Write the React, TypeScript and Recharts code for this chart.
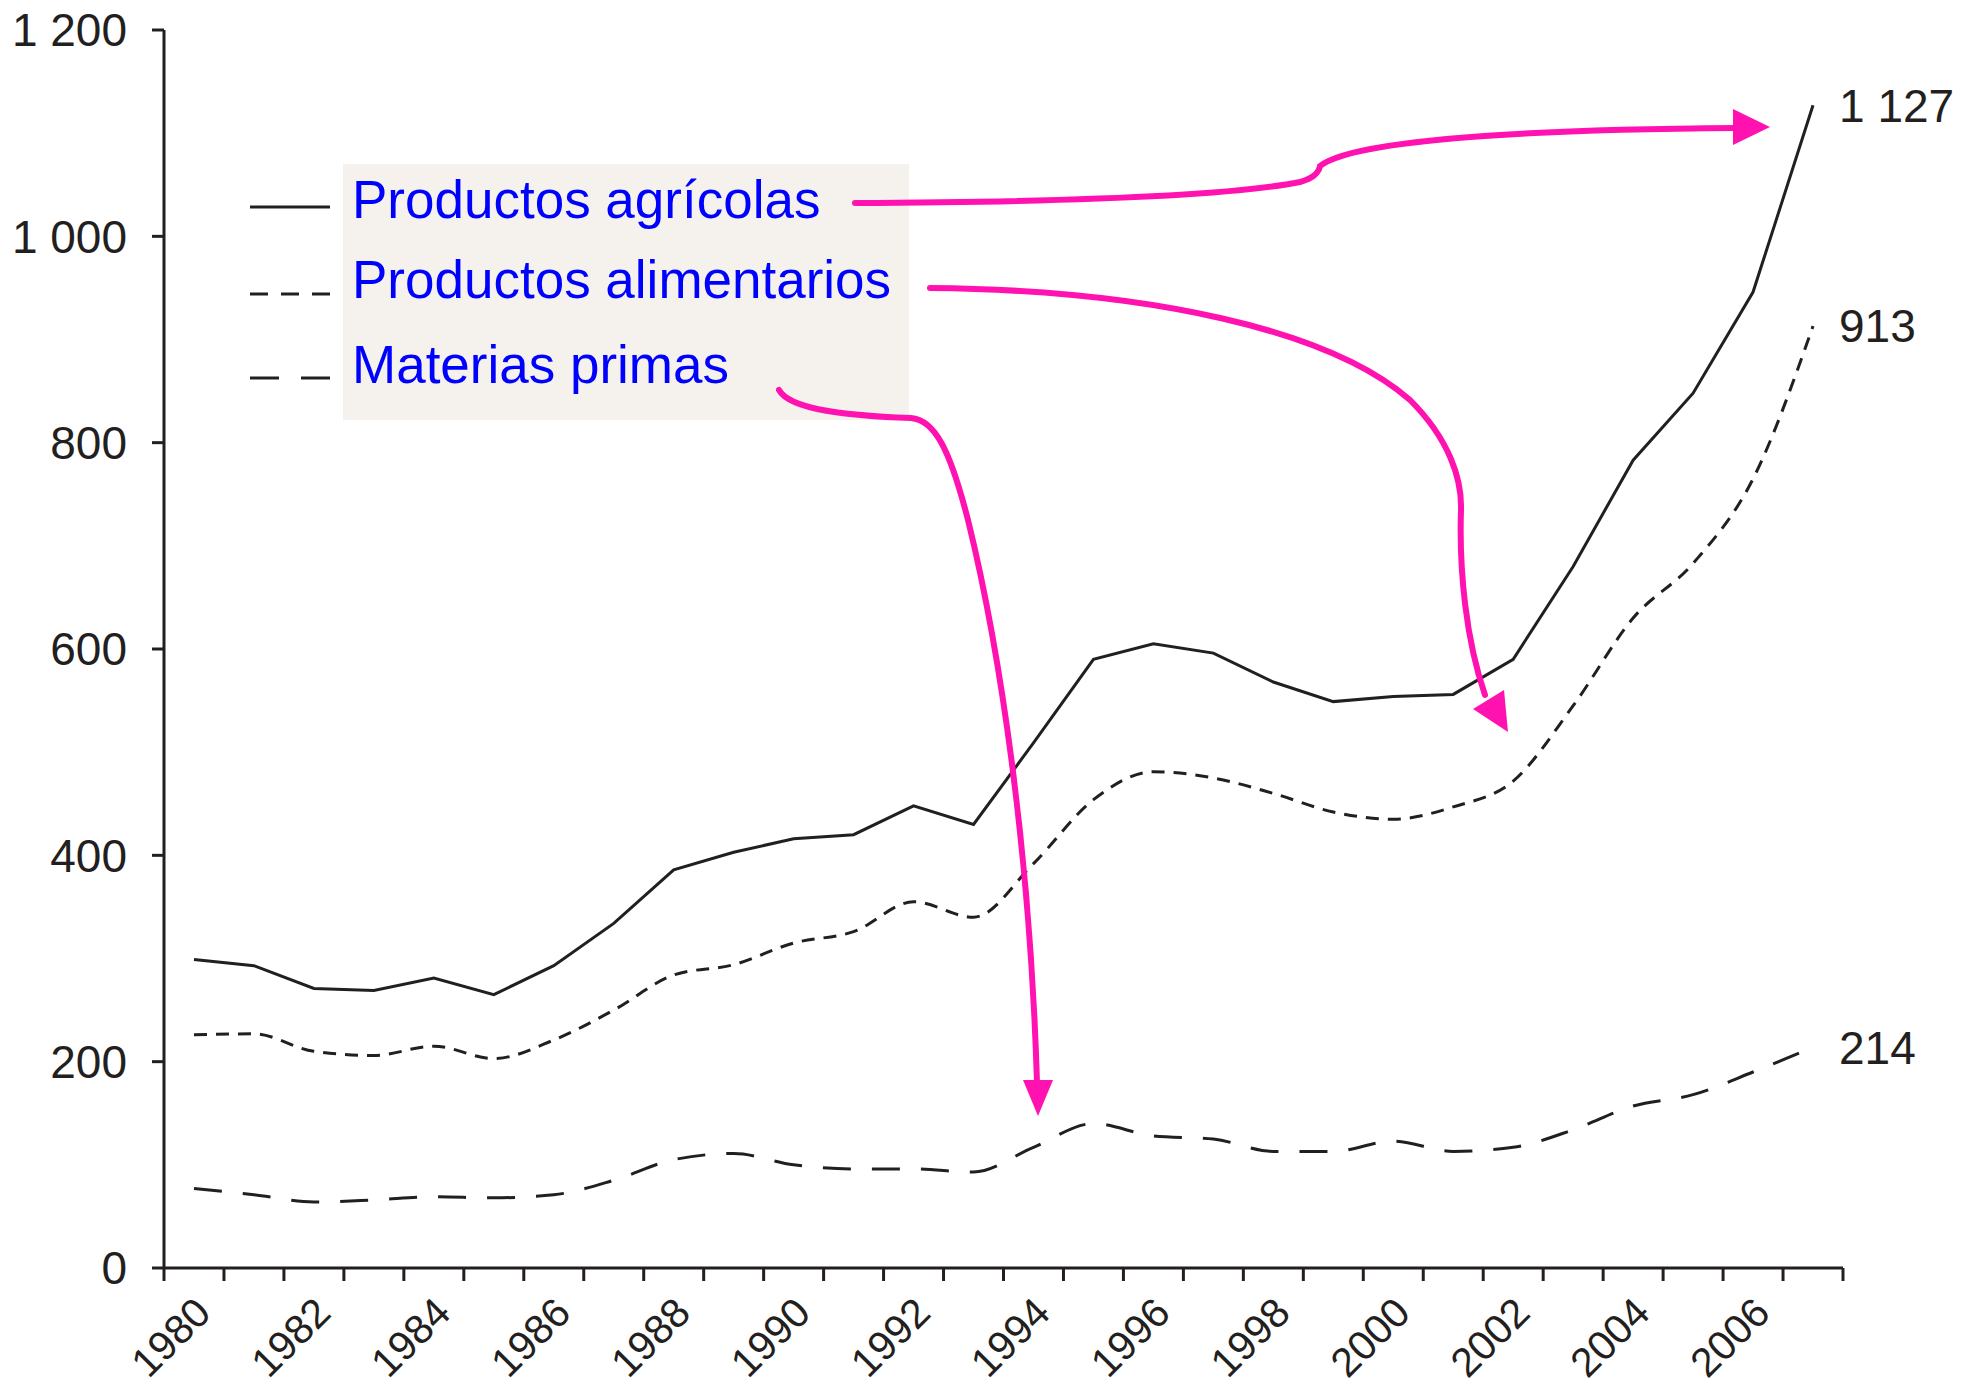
import React from 'react'
import { LineChart, Line, XAxis, YAxis, Legend, LabelList } from 'recharts'

const YEARS = [
  '1980', '1981', '1982', '1983', '1984', '1985', '1986', '1987', '1988', '1989',
  '1990', '1991', '1992', '1993', '1994', '1995', '1996', '1997', '1998', '1999',
  '2000', '2001', '2002', '2003', '2004', '2005', '2006', '2007',
]

const AGRICOLAS = [
  299, 293, 271, 269, 281, 265, 293, 334, 386, 403,
  416, 420, 448, 430, 509, 590, 605, 596, 568, 549,
  554, 556, 590, 680, 783, 848, 946, 1127,
]

const ALIMENTARIOS = [
  226, 227, 210, 206, 215, 203, 221, 250, 284, 294,
  315, 326, 355, 340, 392, 454, 481, 475, 460, 442,
  435, 447, 472, 545, 630, 683, 765, 913,
]

const MATERIAS = [
  77, 71, 64, 66, 69, 68, 71, 85, 105, 111,
  100, 96, 96, 93, 117, 140, 128, 125, 113, 113,
  123, 113, 117, 134, 157, 168, 190, 214,
]

const Y_TICKS = [0, 200, 400, 600, 800, 1000, 1200]

const SERIES_NAMES = ['Productos agrícolas', 'Productos alimentarios', 'Materias primas']

// chart geometry
const W = 1971
const H = 1388
const Y_AXIS_W = 164
const RIGHT = 128
const BAND = (W - Y_AXIS_W - RIGHT) / YEARS.length

const INK = '#231f20'
const PINK = '#ff12b0'
const FONT = '"Liberation Sans", Arial, Helvetica, sans-serif'

const data = YEARS.map((year, i) => ({
  year,
  agricolas: AGRICOLAS[i],
  alimentarios: ALIMENTARIOS[i],
  materias: MATERIAS[i],
}))

const series = [
  { key: 'agricolas', name: SERIES_NAMES[0], dash: undefined, legendDash: undefined, type: 'linear' },
  { key: 'alimentarios', name: SERIES_NAMES[1], dash: '13 9', legendDash: '18 13', type: 'monotone' },
  { key: 'materias', name: SERIES_NAMES[2], dash: '28 21', legendDash: '29 22', type: 'monotone' },
]

const fmt = (v: number) => String(v).replace(/\B(?=(\d{3})+(?!\d))/g, ' ')

const YearTick = (props: any) => {
  const { x, y, payload, index } = props
  const half = BAND / 2
  const year = Number(payload.value)
  const ax = x + 19
  const ay = y + 47
  return (
    <g>
      <line x1={x - half} y1={y} x2={x - half} y2={y + 13} stroke={INK} strokeWidth={3} />
      {index === YEARS.length - 1 && (
        <line x1={x + half} y1={y} x2={x + half} y2={y + 13} stroke={INK} strokeWidth={3} />
      )}
      {year % 2 === 0 && (
        <text
          x={ax}
          y={ay}
          textAnchor="end"
          transform={`rotate(-45 ${ax} ${ay})`}
          fontSize={41}
          fill={INK}
          fontFamily={FONT}
        >
          {payload.value}
        </text>
      )}
    </g>
  )
}

const EndLabel = (props: any) => {
  const { x, y, value, index } = props
  if (index !== YEARS.length - 1) return null
  return (
    <text x={x + 26} y={y} dy="0.355em" fontSize={46} fill={INK} fontFamily={FONT}>
      {fmt(value)}
    </text>
  )
}

// legend keeps the series order (not the alphabetical payload order)
const LegendBox = () => {
  const rows = [
    { line: 43, base: 54 },
    { line: 130, base: 134 },
    { line: 214, base: 219 },
  ]
  return (
    <svg width={660} height={260}>
      <rect x={93} y={0} width={566} height={256} fill="#f5f2ee" />
      {series.map((s, i) => {
        const r = rows[i]
        return (
          <g key={s.key}>
            <line x1={0} y1={r.line} x2={80} y2={r.line} stroke={INK} strokeWidth={3} strokeDasharray={s.legendDash} />
            <text x={102} y={r.base} fontSize={53} fill="#0000ff" fontFamily={FONT}>
              {s.name}
            </text>
          </g>
        )
      })}
    </svg>
  )
}

// hand-drawn pointer arrows from the legend to the lines
const Arrows = () => (
  <svg width={W} height={H} style={{ position: 'absolute', left: 0, top: 0, pointerEvents: 'none' }}>
    <g fill="none" stroke={PINK} strokeWidth={6} strokeLinecap="round">
      <path d="M855,203 C1050,202 1230,196 1300,182 Q1318,177 1320,166 C1345,146 1460,130 1737,128" />
      <path d="M930,288 C1150,290 1330,330 1410,400 C1450,440 1462,480 1461,510 C1459,570 1466,640 1485,695" />
      <path d="M779,390 C790,410 850,416 911,418 C935,420 950,450 968,520 C1000,650 1030,850 1037,1083" />
    </g>
    <g fill={PINK}>
      <polygon points="1770,127 1733,109 1733,145" />
      <polygon points="1508,732 1504,690 1473,709" />
      <polygon points="1038,1116 1023,1080 1053,1080" />
    </g>
  </svg>
)

export default function App() {
  return (
    <div style={{ position: 'absolute', left: 0, top: 0, width: W, height: H, background: '#fff', fontFamily: FONT }}>
      <LineChart width={W} height={H} data={data} margin={{ top: 30, right: RIGHT, bottom: 0, left: 0 }}>
        <XAxis
          dataKey="year"
          scale="band"
          interval={0}
          height={120}
          tickSize={0}
          tickMargin={0}
          tickLine={false}
          axisLine={{ stroke: INK, strokeWidth: 3 }}
          tick={<YearTick />}
        />
        <YAxis
          domain={[0, 1200]}
          ticks={Y_TICKS}
          width={Y_AXIS_W}
          tickSize={12}
          tickMargin={25}
          tickFormatter={fmt}
          axisLine={{ stroke: INK, strokeWidth: 3 }}
          tickLine={{ stroke: INK, strokeWidth: 3 }}
          tick={{ fontSize: 46, fill: INK, fontFamily: FONT }}
        />
        <Legend
          layout="vertical"
          align="center"
          verticalAlign="middle"
          content={<LegendBox />}
          wrapperStyle={{ left: 250, top: 164, width: 660, height: 260 }}
        />
        {series.map((s) => (
          <Line
            key={s.key}
            dataKey={s.key}
            name={s.name}
            type={s.type as any}
            stroke={INK}
            strokeWidth={3}
            strokeDasharray={s.dash}
            dot={false}
            activeDot={false}
            isAnimationActive={false}
          >
            <LabelList dataKey={s.key} content={<EndLabel />} />
          </Line>
        ))}
      </LineChart>
      <Arrows />
    </div>
  )
}
